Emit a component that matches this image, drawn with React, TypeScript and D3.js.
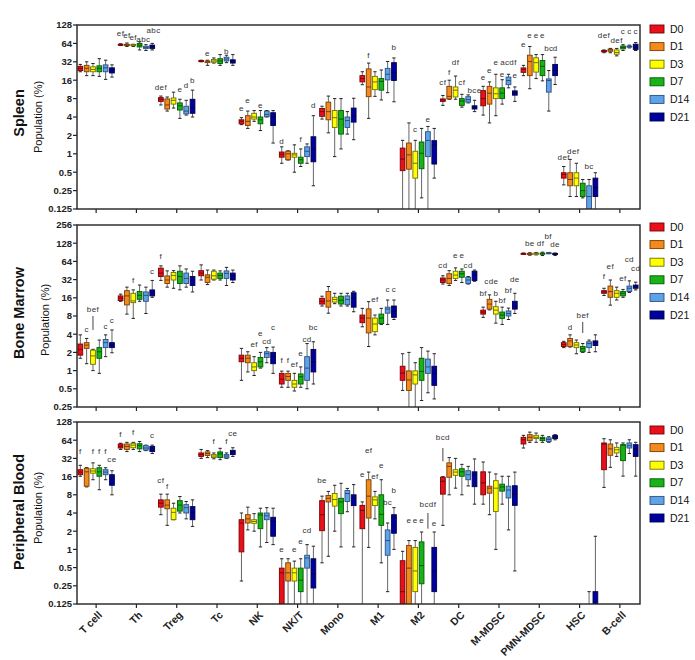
import React from "react";
import * as d3 from "d3";

type Stat = number[] | null;

const categories = ["T cell", "Th", "Treg", "Tc", "NK", "NK/T", "Mono", "M1", "M2", "DC", "M-MDSC", "PMN-MDSC", "HSC", "B-cell"];
const groups = ["D0", "D1", "D3", "D7", "D14", "D21"];
const groupFill = ["#e8101a", "#f28a1e", "#ffff00", "#19b319", "#5ea2e8", "#0000a0"];
const groupStroke = ["#7a0000", "#7a3c00", "#6e6e00", "#005a00", "#2a4f80", "#000045"];
const panelTitles = ["Spleen", "Bone Marrow", "Peripheral Blood"];

const spleenTicks = [0.125, 0.25, 0.5, 1, 2, 4, 8, 16, 32, 64, 128];
const boneMarrowTicks = [0.25, 0.5, 1, 2, 4, 8, 16, 32, 64, 128, 256];
const bloodTicks = [0.125, 0.25, 0.5, 1, 2, 4, 8, 16, 32, 64, 128];

// [low whisker, q1, median, q3, high whisker] per category x day
const spleenStats: Stat[][] = [
  [[22, 23, 25, 27, 29], [19, 22, 25, 28, 32], [19, 22, 24, 26.5, 30], [18.5, 22, 25, 27.5, 36], [16.5, 22, 25.5, 28.5, 34], [18, 21, 23.5, 25.5, 28.5]],
  [[59, 60, 61, 62, 63], [57, 59, 61, 62, 65], [57, 58.5, 60, 61.5, 62], [50, 56, 60, 64, 68], [49, 52.5, 55, 57.5, 61], [50, 53, 57, 60, 64]],
  [[6.3, 7.2, 7.8, 8.3, 8.8], [5, 5.4, 6.3, 7.9, 8.5], [5.6, 6.5, 7.5, 8.2, 10.2], [3.8, 5.2, 6.1, 6.8, 7.8], [4.3, 4.5, 5, 6, 7.5], [4, 4.6, 5.6, 7.8, 11]],
  [[32, 32.5, 33, 33.5, 34], [28, 31, 32, 33, 34], [30.5, 31.5, 33, 35, 37], [28, 30, 33, 36, 42], [31, 33, 35.5, 38, 41], [28, 30.5, 33, 34.5, 42]],
  [[3.0, 3.1, 3.4, 3.6, 3.9], [2.6, 2.9, 3.4, 4.2, 5], [3.4, 3.7, 4.0, 4.6, 5.1], [2.4, 3.1, 3.6, 4, 5.1], [4, 4.05, 4.4, 5, 5.1], [1.5, 2.9, 4.0, 4.7, 5.1]],
  [[0.7, 0.88, 0.98, 1.07, 1.3], [0.79, 0.8, 1.0, 1.1, 1.12], [0.5, 0.88, 0.96, 1.02, 1.4], [0.62, 0.7, 0.8, 0.88, 1.2], [0.7, 0.9, 1.1, 1.3, 1.45], [0.3, 0.74, 1.2, 1.9, 4.2]],
  [[3.7, 4.1, 4.9, 5.5, 6], [2.2, 3.6, 4.9, 7, 8.8], [0.9, 2.7, 3.9, 5.1, 8], [1.2, 2.1, 3.7, 5.1, 8], [2.1, 2.7, 3.5, 4, 4.9], [1.7, 3.3, 4.2, 5.6, 8.1]],
  [[13.5, 15, 17, 19, 22], [3.8, 8.6, 12.4, 24.5, 30.5], [8.7, 11.2, 15, 18.5, 22], [7.6, 11, 15.3, 17, 23.5], [10, 16.2, 20, 25, 32.4], [7.1, 15.8, 21.5, 31, 37]],
  [[0.1, 0.53, 0.82, 1.24, 1.66], [0.1, 0.56, 0.96, 1.5, 3.2], [0.1, 0.4, 0.7, 1.1, 1.66], [0.19, 0.57, 1.02, 1.56, 2.6], [0.1, 0.9, 1.65, 2.3, 2.8], [0.4, 0.68, 1.4, 1.64, 2.6]],
  [[6.2, 7.2, 7.6, 7.9, 9], [7.8, 7.9, 8.7, 12.7, 16], [7.8, 8.5, 11, 12.4, 18.7], [5.8, 6.2, 7.3, 8, 9.4], [6.8, 7.0, 7.7, 8.6, 9.2], [4.9, 5.4, 5.8, 6.1, 7.5]],
  [[4.3, 6.1, 8, 10.8, 12.7], [3.2, 6.5, 9.8, 12.7, 15], [4.2, 8, 9.6, 12, 20], [6.5, 8, 9.8, 12, 16.3], [12, 13.5, 15.8, 18, 20], [7.2, 9.1, 9.8, 10.7, 12.4]],
  [[19, 21.5, 24, 25.4, 28], [11.6, 19, 32.4, 41, 57], [17, 21.7, 31, 37.3, 42], [15.6, 19, 27, 33.6, 42], [5, 10.2, 15.8, 16.8, 23], [13.6, 19, 23, 29, 38]],
  [[0.31, 0.4, 0.46, 0.49, 0.62], [0.2, 0.3, 0.38, 0.49, 0.81], [0.2, 0.3, 0.4, 0.49, 0.7], [0.19, 0.2, 0.25, 0.33, 0.38], [0.1, 0.12, 0.2, 0.3, 0.38], [0.1, 0.2, 0.28, 0.4, 0.49]],
  [[45, 46.5, 48, 49, 50], [45, 47.5, 50, 51.5, 53], [40, 42.5, 45.5, 50, 53], [49, 52, 55, 58, 61], [54, 55.5, 57, 58, 60], [49, 51, 56, 62, 66]],
];

const boneMarrowStats: Stat[][] = [
  [[1.6, 1.8, 2.24, 2.75, 3.9], [1.3, 2.33, 2.64, 2.9, 3.4], [1.0, 1.27, 1.75, 2.18, 2.25], [0.9, 1.6, 2.05, 2.4, 3.2], [1.7, 2.4, 2.9, 3.27, 3.9], [1.97, 2.4, 2.64, 2.9, 4.7]],
  [[14, 14.4, 15.8, 17.2, 18.4], [8.6, 12.2, 17.2, 21, 24], [7.3, 13.3, 14.2, 19, 21.6], [14, 15.1, 17.6, 20.3, 26], [8.8, 14, 17.6, 20, 24], [16.3, 17.2, 19.6, 21.6, 31]],
  [[31, 36, 41, 49.5, 54], [24, 27.6, 31.5, 36.8, 44.6], [23, 31.5, 37.5, 42, 45], [21.7, 27.6, 36, 44, 54], [24, 27.6, 33.5, 41, 48], [20, 25.6, 31.5, 36, 44]],
  [[31.5, 37, 41, 45, 56], [26.5, 28.6, 35, 38.4, 46], [31.5, 32.5, 37, 44, 46], [31.5, 33.5, 37.5, 41, 44.6], [25.6, 33.5, 40.5, 44.6, 51], [28.6, 31.5, 37, 41, 46]],
  [[0.69, 1.4, 1.6, 1.8, 2.33], [0.95, 1.35, 1.6, 1.8, 2.05], [0.83, 1.0, 1.15, 1.35, 1.7], [1.1, 1.15, 1.4, 1.65, 2.0], [1.35, 1.65, 1.9, 2.05, 2.4], [0.9, 1.3, 1.7, 2.0, 2.45]],
  [[0.53, 0.6, 0.72, 0.9, 0.98], [0.53, 0.69, 0.8, 0.9, 0.98], [0.46, 0.53, 0.6, 0.69, 0.9], [0.53, 0.6, 0.79, 0.88, 1.15], [0.5, 0.69, 1.1, 1.7, 2.8], [0.6, 0.95, 1.4, 2.24, 3.0]],
  [[11.7, 12.6, 14, 15.7, 17], [8.9, 11.2, 14.2, 20.3, 24.6], [12.8, 13.6, 15, 16.3, 19], [11.7, 12.6, 14.6, 17, 19], [11.7, 12.3, 15, 17.2, 19], [9.4, 11.2, 15.7, 19.4, 20.5]],
  [[5.3, 6.2, 7.4, 8.3, 10.7], [2.5, 4.2, 7.4, 10.5, 13.8], [3.9, 4.4, 5.9, 7.4, 8.3], [5.8, 6, 7.4, 8.6, 10.7], [5.8, 8.9, 10.4, 11.2, 14.7], [7, 7.6, 9.6, 11.7, 14.7]],
  [[0.47, 0.69, 0.91, 1.18, 1.9], [0.2, 0.47, 0.7, 0.99, 2.0], [0.2, 0.6, 0.85, 0.99, 1.35], [0.32, 0.69, 0.97, 1.6, 2.4], [0.43, 0.9, 1.15, 1.55, 2.1], [0.34, 0.57, 0.9, 1.18, 1.9]],
  [[27, 28.6, 31.5, 34, 37], [25.6, 27.6, 33.5, 40, 45], [31, 33.5, 38, 44, 50], [28.6, 35, 40, 44, 48], [27, 27.6, 31.5, 35, 36], [30, 31, 38, 44, 46]],
  [[7.6, 8.6, 9.3, 10, 11.2], [10.1, 10.4, 12.6, 15.1, 17.9], [6.1, 8.6, 10, 11.4, 14], [5.8, 7.3, 8.3, 9.3, 11.2], [7, 8, 8.8, 9.7, 10.8], [8.8, 10.4, 11.7, 14, 19]],
  [[84, 85, 86, 87, 88], [81, 83, 85, 87, 89], [82, 84, 86, 88, 90], [80, 84, 86, 88, 91], [86, 87, 88, 89, 90], [80, 83, 85, 87, 88]],
  [[2.4, 2.5, 2.7, 2.9, 3.05], [2.45, 2.5, 3.1, 3.4, 3.9], [1.9, 2.4, 2.65, 2.9, 3.2], [2.0, 2.05, 2.3, 2.5, 2.8], [2.0, 2.4, 2.8, 3.0, 3.2], [2.05, 2.6, 2.9, 3.1, 3.9]],
  [[17.5, 19, 20, 21, 23], [12.1, 16.3, 20.3, 25, 31.5], [14.7, 16.3, 19, 21, 24], [16.3, 17.2, 19, 20.3, 22], [19.6, 20.3, 23, 25, 30.5], [21.6, 23, 25, 26, 29]],
];

const bloodStats: Stat[][] = [
  [[16.2, 17.2, 19, 20.8, 24.6], [10.8, 11.1, 19.2, 22, 22.5], [14.2, 18.2, 19.8, 21.6, 27], [9.7, 16.2, 19.2, 22.4, 24.6], [14.2, 17.2, 19, 20.8, 22.4], [8, 11.5, 14.6, 17.2, 20]],
  [[45, 47.5, 51, 55.4, 57], [41.5, 45, 50.5, 55.4, 59], [45, 48, 53, 57, 59], [41.5, 46, 52, 56, 61], [43, 44, 47.5, 52, 53], [38.6, 41.5, 46, 50.5, 53]],
  [[3.75, 5.0, 5.8, 6.6, 8.2], [2.5, 4.7, 5.4, 6.6, 8.2], [3.1, 3.1, 4.1, 4.8, 5.8], [4.0, 4.3, 5.4, 6.4, 7.5], [3.2, 4.0, 4.9, 5.5, 6.2], [2.4, 3.1, 4.1, 5.1, 6.6]],
  [[32, 34.5, 37, 39.4, 45], [33, 35.7, 38.5, 41, 43], [31.5, 33, 35, 37, 39.4], [30.5, 33, 38, 41, 47], [32, 32.5, 35, 37, 39.4], [34.5, 37, 41, 43.5, 48]],
  [[0.3, 0.91, 2.73, 3.1, 4.0], [2.1, 2.73, 3.2, 3.75, 5.0], [2.0, 2.7, 2.9, 3.1, 3.9], [1.1, 2.2, 3.7, 4.0, 4.8], [1.3, 3.1, 3.6, 4.0, 4.9], [1.2, 1.65, 2.9, 3.4, 4.8]],
  [[0.1, 0.1, 0.41, 0.49, 0.7], [0.1, 0.3, 0.41, 0.6, 0.7], [0.1, 0.3, 0.41, 0.49, 0.64], [0.1, 0.2, 0.31, 0.49, 0.7], [0.1, 0.49, 0.72, 0.8, 1.2], [0.1, 0.23, 0.39, 0.7, 1.13]],
  [[0.6, 2.04, 3.75, 6.4, 7.6], [0.77, 6.1, 7.0, 7.8, 9.1], [2.0, 5.2, 6.7, 8.4, 11.5], [1.1, 3.9, 6.1, 7.0, 12.4], [4.2, 6.2, 8.4, 9.4, 10.2], [1.1, 5.3, 7.1, 8, 11.8]],
  [[0.1, 2.2, 4.4, 5.35, 6.1], [1.08, 3.3, 7.6, 14.2, 19], [3.2, 5.3, 6.6, 7.4, 9.1], [0.6, 2.5, 3.8, 8, 14.2], [0.2, 0.8, 1.4, 2.1, 2.73], [1.0, 1.85, 3.3, 3.75, 4.9]],
  [[0.1, 0.1, 0.2, 0.65, 0.93], [0.1, 0.1, 0.49, 1.16, 1.4], [0.1, 0.2, 0.44, 1.08, 1.4], [0.1, 0.27, 0.54, 1.33, 1.94], null, [0.1, 0.2, 0.44, 1.08, 1.94]],
  [[2.5, 8.2, 13.4, 15.6, 16], [8, 15.6, 23.6, 27, 33], [10.3, 16.8, 19, 20.8, 32], [8, 16.2, 19.2, 21.6, 25.5], [11.2, 14.2, 17.2, 20, 23.6], [5.6, 10.9, 17, 19.2, 31.3]],
  [[5.6, 8, 12.6, 19.2, 27.9], [3.75, 8.5, 10.3, 11.1, 19], [1.0, 4.25, 10.3, 13.7, 17.7], [5.6, 9.2, 10.8, 12, 16.2], [2.1, 7.1, 9.6, 11.1, 16.2], [0.44, 5.35, 8.2, 11.3, 19]],
  [[47.5, 55.4, 65, 71.5, 77], [59, 62.9, 71.5, 79, 87], [59, 68, 71.5, 77, 84], [59, 63, 68, 71.5, 77], [59, 61, 66, 70, 73], [65, 68, 72.5, 77, 79]],
  [null, null, null, null, [0.05, 0.06, 0.08, 0.1, 0.2], [0.05, 0.08, 0.1, 0.2, 1.65]],
  [[10.6, 20.8, 55.4, 57.6, 67.7], [22.8, 36, 46, 55.4, 65], [34.5, 39.4, 44.5, 48.8, 57.6], [16.3, 29.4, 53, 54, 57.6], [38.6, 47.5, 52, 57.6, 65], [16.3, 34.5, 46, 54, 59]],
];

// significance letters: [category index, day position, text, value]
const spleenLetters: [number, number, string, number][] = [
  [1, 0, "ef", 94], [1, 1, "ef", 88], [1, 2, "ef", 81.5], [1, 3.6, "abc", 76], [1, 5.2, "abc", 106],
  [2, 0, "def", 12.3], [2, 3, "e", 11.2], [2, 4, "d", 13.1], [2, 5, "b", 16.2],
  [3, 1, "e", 44.6], [3, 4, "b", 48.5],
  [4, 0, "e", 5.6], [4, 1, "e", 7.6], [4, 3, "e", 6.2],
  [5, 0, "d", 1.62], [5, 3, "f", 1.73], [5, 5, "d", 6.2],
  [7, 1, "f", 41.7], [7, 5, "b", 55],
  [8, 2, "c", 2.53], [8, 4, "e", 3.7],
  [9, 0, "cf", 14.9], [9, 1, "f", 22], [9, 2, "df", 31], [9, 3, "cf", 14.9], [9, 5, "bce", 10.8],
  [10, 0, "e", 18], [10, 1, "e", 23.7], [10, 2, "e", 31], [10, 3, "e", 20.4], [10, 4, "acdf", 31], [10, 5, "e", 19.4],
  [11, 0, "e", 61], [11, 1, "e", 85.6], [11, 2, "e", 85.6], [11, 3, "e", 85.6], [11, 4, "bc", 53.8], [11, 5, "d", 53.8],
  [12, 0, "def", 0.87], [12, 1.5, "def", 1.12], [12, 4, "bc", 0.63],
  [13, 0, "def", 85.6], [13, 2, "def", 73.5], [13, 3, "c", 100], [13, 4, "c", 100], [13, 5, "c", 100],
];
const boneMarrowLetters: [number, number, string, number][] = [
  [0, 1, "c", 4.86], [0, 2, "bef", 10.5], [0, 4, "c", 5.5], [0, 5, "c", 6.9],
  [1, 2, "f", 31], [1, 5, "c", 44],
  [2, 0, "f", 79],
  [4, 2, "ef", 2.7], [4, 3, "e", 4.1], [4, 4, "cd", 3.07], [4, 5, "c", 5.3],
  [5, 0, "f", 1.49], [5, 1, "f", 1.49], [5, 2, "ef", 1.27], [5, 3, "e", 1.92], [5, 4, "cd", 3.3], [5, 5, "bc", 5.2],
  [7, 2, "ef", 15.1], [7, 4, "c", 22], [7, 5, "c", 22],
  [9, 0, "cd", 56], [9, 2, "e", 82], [9, 3, "e", 82], [9, 4, "cd", 56],
  [10, 0, "bf", 19], [10, 1.3, "cde", 30.5], [10, 2, "b", 19], [10, 3, "bf", 14.7], [10, 4, "bf", 21.5], [10, 5, "de", 32.5],
  [11, 1, "be", 129], [11, 2.7, "df", 129], [11, 3.9, "bf", 170], [11, 5, "de", 121],
  [12, 1, "d", 5.3], [12, 3, "bef", 8.3],
  [13, 0, "f", 36], [13, 1, "ef", 52.7], [13, 3, "ef", 34], [13, 4, "cd", 70], [13, 5, "cd", 49.5],
];
const bloodLetters: [number, number, string, number][] = [
  [0, 0, "f", 42], [0, 2, "f", 42], [0, 3, "f", 42], [0, 4, "f", 42], [0, 5, "ce", 30.5],
  [1, 0, "f", 81], [1, 2, "f", 87.5], [1, 5, "c", 77],
  [2, 0, "cf", 13.7], [2, 1, "f", 11.3],
  [3, 2, "f", 61.4], [3, 4, "f", 61.4], [3, 5, "ce", 84],
  [5, 0, "e", 1.0], [5, 2, "e", 1.0], [5, 3, "e", 1.36], [5, 4, "cd", 2.04],
  [6, 0, "be", 14.2],
  [7, 0, "e", 17.3], [7, 1, "ef", 43.5], [7, 2, "ef", 16.1], [7, 3, "e", 24.6], [7, 4, "bc", 6.1], [7, 5, "b", 9.4],
  [8, 1, "e", 3.0], [8, 2, "e", 3.0], [8, 3, "e", 3.0], [8, 4, "bcdf", 5.6], [8, 5, "e", 2.73],
  [9, 0, "bcd", 71.5],
];
// vertical marker lines: [category, day position, low, high]
const spleenMarks: [number, number, number, number][] = [];
const boneMarrowMarks: [number, number, number, number][] = [[0, 2, 4.7, 8], [12, 3, 4.2, 6.4]];
const bloodMarks: [number, number, number, number][] = [[8, 4, 2.2, 4.0], [9, 0, 28.6, 47.5]];

const FONT = "'Liberation Sans', Arial, Helvetica, sans-serif";
const plotLeft = 77;
const plotRight = 640;

const panelLayout = [
  { top: 25, bottom: 209, titleY: 113, popX: 42, popY: 117, legendTop: 29 },
  { top: 225, bottom: 407, titleY: 313, popX: 49, popY: 320, legendTop: 227 },
  { top: 422, bottom: 604, titleY: 512, popX: 42, popY: 508, legendTop: 430 },
];
const panelStats = [spleenStats, boneMarrowStats, bloodStats];
const panelTicks = [spleenTicks, boneMarrowTicks, bloodTicks];
const panelLetters = [spleenLetters, boneMarrowLetters, bloodLetters];
const panelMarks = [spleenMarks, boneMarrowMarks, bloodMarks];

function Panel({ idx }: { idx: number }) {
  const L = panelLayout[idx];
  const ticks = panelTicks[idx];
  const stats = panelStats[idx];
  const y = d3.scaleLog().base(2).domain([ticks[0], ticks[ticks.length - 1]]).range([L.bottom, L.top]);
  const x = d3.scaleBand<string>().domain(categories).range([plotLeft - 1, plotRight]);
  const g = d3.scaleBand<string>().domain(groups).range([-18.2, 18.2]).paddingInner(0.25);
  const bw = g.bandwidth();
  const cx = (c: number) => (x(categories[c]) as number) + x.bandwidth() / 2;
  const gx = (p: number) => (g(groups[0]) as number) + bw / 2 + p * g.step();
  const clipId = "clip" + idx;
  const capW = bw * 0.7;

  return (
    <g>
      <defs>
        <clipPath id={clipId}>
          <rect x={plotLeft} y={L.top} width={plotRight - plotLeft} height={L.bottom - L.top} />
        </clipPath>
      </defs>
      <text transform={`translate(24,${L.titleY}) rotate(-90)`} textAnchor="middle" fontFamily={FONT} fontWeight="bold" fontSize={14.5} fill="#111">
        {panelTitles[idx]}
      </text>
      <text transform={`translate(${L.popX},${L.popY}) rotate(-90)`} textAnchor="middle" fontFamily={FONT} fontSize={11} fill="#111">
        Population (%)
      </text>
      {ticks.map((t) => (
        <g key={t}>
          <line x1={plotLeft - 4} x2={plotLeft} y1={y(t)} y2={y(t)} stroke="#222" strokeWidth={1.2} />
          <text x={plotLeft - 5} y={y(t)} dy="0.35em" textAnchor="end" fontFamily={FONT} fontWeight="bold" fontSize={9.5} fill="#222">
            {String(t)}
          </text>
        </g>
      ))}
      {categories.map((c, i) => (
        <line key={c} x1={cx(i)} x2={cx(i)} y1={L.bottom} y2={L.bottom + 4} stroke="#222" strokeWidth={1.2} />
      ))}
      {idx === 2 &&
        categories.map((c, i) => (
          <text key={c} transform={`translate(${cx(i) + 4},${L.bottom + 9}) rotate(-45)`} textAnchor="end" dy="0.35em" fontFamily={FONT} fontWeight="bold" fontSize={10.5} fill="#222">
            {c}
          </text>
        ))}
      <g clipPath={`url(#${clipId})`}>
        {stats.map((row, ci) =>
          row.map((s, gi) => {
            if (!s) return null;
            const px = cx(ci) + gx(gi);
            const [lo, q1, med, q3, hi] = s;
            return (
              <g key={ci + "-" + gi}>
                <line x1={px} x2={px} y1={y(hi)} y2={y(q3)} stroke="#666" strokeWidth={1} />
                <line x1={px} x2={px} y1={y(q1)} y2={y(lo)} stroke="#666" strokeWidth={1} />
                <line x1={px - capW / 2} x2={px + capW / 2} y1={y(hi)} y2={y(hi)} stroke="#222" strokeWidth={1} />
                <line x1={px - capW / 2} x2={px + capW / 2} y1={y(lo)} y2={y(lo)} stroke="#222" strokeWidth={1} />
                <rect x={px - bw / 2} y={y(q3)} width={bw} height={Math.max(1, y(q1) - y(q3))} fill={groupFill[gi]} stroke={groupStroke[gi]} strokeWidth={0.9} />
                <line x1={px - bw / 2} x2={px + bw / 2} y1={y(med)} y2={y(med)} stroke={groupStroke[gi]} strokeWidth={1} />
              </g>
            );
          })
        )}
      </g>
      {panelMarks[idx].map(([c, p, lo, hi], k) => (
        <line key={"m" + k} x1={cx(c) + gx(p)} x2={cx(c) + gx(p)} y1={y(lo)} y2={y(hi)} stroke="#444" strokeWidth={1} />
      ))}
      {panelLetters[idx].map(([c, p, t, v], k) => (
        <text key={"l" + k} x={cx(c) + gx(p)} y={y(v)} dy="0.35em" textAnchor="middle" fontFamily={FONT} fontSize={8} letterSpacing={0.4} fill="#333">
          {t}
        </text>
      ))}
      <rect x={plotLeft} y={L.top} width={plotRight - plotLeft} height={L.bottom - L.top} fill="none" stroke="#222" strokeWidth={1.4} />
      {groups.map((d, i) => (
        <g key={d}>
          <rect x={650} y={L.legendTop + i * 17.6 - 4} width={14} height={8} fill={groupFill[i]} stroke={groupStroke[i]} strokeWidth={0.9} />
          <text x={670} y={L.legendTop + i * 17.6} dy="0.35em" fontFamily={FONT} fontSize={10.5} fill="#111">
            {d}
          </text>
        </g>
      ))}
    </g>
  );
}

export default function App() {
  return (
    <svg width={695} height={660} style={{ position: "absolute", left: 0, top: 0, background: "#fff" }}>
      <rect width={695} height={660} fill="#fff" />
      {[0, 1, 2].map((i) => (
        <Panel key={i} idx={i} />
      ))}
    </svg>
  );
}
